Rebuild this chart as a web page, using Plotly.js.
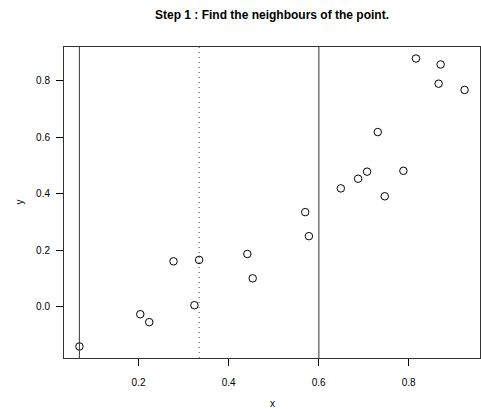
<!DOCTYPE html>
<html>
<head>
<meta charset="utf-8">
<script src="https://cdn.plot.ly/plotly-3.0.1.min.js"></script>
<style>html,body{margin:0;padding:0;background:#fff;}#chart{width:481px;height:409px;}</style>
</head>
<body>
<div id="chart"></div>
<script>
// Data
const xValues = [0.0686, 0.2038, 0.2237, 0.3241, 0.2776, 0.3345, 0.4416, 0.4535, 0.5701, 0.5783,
                 0.6492, 0.6876, 0.7075, 0.7312, 0.7468, 0.7882, 0.8161, 0.8709, 0.8664, 0.9241];
const yValues = [-0.140, -0.026, -0.054, 0.006, 0.161, 0.166, 0.187, 0.101, 0.335, 0.250,
                 0.419, 0.453, 0.478, 0.618, 0.391, 0.481, 0.878, 0.857, 0.789, 0.767];
const focusIndex = 5;      // the point whose neighbours are sought
const halfWidth = 0.266;   // neighbourhood half-width
const xTicks = [0.2, 0.4, 0.6, 0.8];
const yTicks = [0.0, 0.2, 0.4, 0.6, 0.8];
const titleText = "Step 1 : Find the neighbours of the point.";

// R-style 4% range extension
function rRange(v) {
  const lo = Math.min(...v), hi = Math.max(...v), d = (hi - lo) * 0.04;
  return [lo - d, hi + d];
}

const fontFam = "Liberation Sans, Arial, Helvetica, sans-serif";
const xp = xValues[focusIndex];

const trace = {
  x: xValues, y: yValues, type: 'scatter', mode: 'markers',
  marker: {symbol: 'circle-open', size: 7.5, color: '#000', line: {width: 1, color: '#000'}},
  hoverinfo: 'skip'
};

const vline = (xv, dash) => ({
  type: 'line', xref: 'x', yref: 'paper', x0: xv, x1: xv, y0: 0, y1: 1,
  line: {color: dash ? '#444' : '#333', width: 1, dash: dash || 'solid'}
});

const layout = {
  width: 481, height: 409,
  margin: {l: 64, r: 1, t: 47, b: 51},
  paper_bgcolor: '#fff', plot_bgcolor: '#fff',
  showlegend: false,
  font: {family: fontFam, color: '#000', size: 10},
  title: {text: '<b>' + titleText + '</b>', font: {family: fontFam, size: 12, color: '#000'},
          x: 0.5, xref: 'paper', y: 1 - 15/409, yref: 'container', yanchor: 'middle'},
  xaxis: {
    range: rRange(xValues), tickvals: xTicks, ticktext: xTicks.map(v => v.toFixed(1)),
    ticks: 'outside', ticklen: 7, tickwidth: 1, tickcolor: '#000',
    showline: true, mirror: true, linecolor: '#333', linewidth: 1,
    showgrid: false, zeroline: false, ticklabelstandoff: 8,
    tickfont: {family: fontFam, size: 10, color: '#000'}
  },
  yaxis: {
    range: rRange(yValues), tickvals: yTicks, ticktext: yTicks.map(v => v.toFixed(1)),
    ticks: 'outside', ticklen: 7, tickwidth: 1, tickcolor: '#000',
    showline: true, mirror: true, linecolor: '#333', linewidth: 1,
    showgrid: false, zeroline: false, ticklabelstandoff: 4,
    tickfont: {family: fontFam, size: 10, color: '#000'}
  },
  shapes: [
    vline(xp - halfWidth),
    vline(xp + halfWidth),
    vline(xp, '1px,4px')
  ],
  annotations: [
    {text: 'x', xref: 'paper', yref: 'paper', x: 0.5, y: 0, xanchor: 'center', yanchor: 'middle',
     yshift: -45, showarrow: false, font: {family: fontFam, size: 10, color: '#000'}},
    {text: 'y', xref: 'paper', yref: 'paper', x: 0, y: 0.5, xanchor: 'center', yanchor: 'middle',
     xshift: -45, textangle: -90, showarrow: false, font: {family: fontFam, size: 10, color: '#000'}}
  ]
};

Plotly.newPlot('chart', [trace], layout, {displayModeBar: false, staticPlot: true});
</script>
</body>
</html>
